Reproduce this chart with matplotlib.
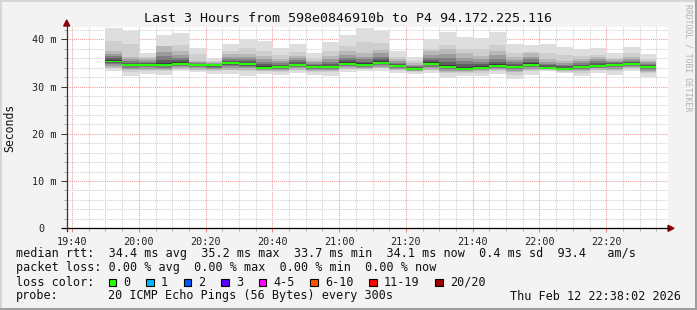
import numpy as np
import matplotlib
matplotlib.use("Agg")
import matplotlib.pyplot as plt
from matplotlib.patches import Rectangle, Polygon
from matplotlib.lines import Line2D
from matplotlib.ticker import FixedLocator, FuncFormatter

# ---- data (ms) ----
title = "Last 3 Hours from 598e0846910b to P4 94.172.225.116"
first_bar = "19:50"
step_min = 5

rtt_max = [42.3, 41.7, 37.2, 40.9, 41.3, 38.2, 36.0, 39.1, 40.1, 39.6, 38.1,
           38.9, 37.1, 39.5, 40.9, 42.3, 41.7, 37.5, 36.3, 40.0, 41.6, 40.4,
           40.2, 41.6, 38.9, 38.8, 38.9, 38.3, 37.9, 38.2, 37.0, 38.4, 36.9]
rtt_upper = [37.6, 36.3, 36.0, 38.5, 37.5, 35.5, 35.2, 36.8, 36.8, 36.5, 35.8,
             36.5, 35.5, 36.5, 37.5, 37.0, 37.8, 35.8, 35.0, 37.5, 38.0, 37.0,
             36.5, 37.5, 36.3, 37.0, 35.8, 35.5, 35.8, 36.3, 35.8, 36.2, 35.5]
rtt_median = [35.3, 34.6, 34.6, 34.6, 34.8, 34.5, 34.5, 35.0, 34.8, 34.0, 34.2,
              34.6, 34.1, 34.1, 34.8, 34.6, 35.0, 34.4, 33.8, 34.8, 34.2, 33.8,
              34.0, 34.4, 34.2, 34.6, 34.0, 33.8, 34.2, 34.4, 34.6, 34.8, 34.2]
rtt_lower = [34.0, 33.4, 33.5, 33.4, 33.8, 33.6, 33.4, 33.6, 33.5, 33.2, 33.2,
             33.6, 33.3, 33.2, 33.8, 33.8, 33.9, 33.4, 33.2, 33.6, 33.0, 33.0,
             33.2, 33.4, 33.0, 33.5, 33.6, 33.3, 33.3, 33.6, 33.5, 33.9, 33.0]
rtt_min = [33.3, 32.2, 32.6, 32.4, 33.2, 33.0, 32.7, 32.7, 32.3, 32.7, 32.4,
           32.8, 32.4, 32.3, 33.0, 33.3, 33.2, 32.8, 32.6, 32.8, 31.9, 32.2,
           32.2, 32.6, 31.5, 32.4, 33.2, 32.8, 32.2, 32.8, 32.4, 33.2, 32.0]

loss_labels = ["0", "1", "2", "3", "4-5", "6-10", "11-19", "20/20"]
loss_colors = ["#26ff00", "#00b8ff", "#0059ff", "#5e00ff", "#ff00ff",
               "#ff5500", "#ff0000", "#a10000"]

median_text = "median rtt:  34.4 ms avg  35.2 ms max  33.7 ms min  34.1 ms now  0.4 ms sd  93.4   am/s"
loss_text = "packet loss: 0.00 % avg  0.00 % max  0.00 % min  0.00 % now"
probe_text = "20 ICMP Echo Pings (56 Bytes) every 300s"
stamp_text = "Thu Feb 12 22:38:02 2026"

# ---- layout (pixels) ----
W, H = 697, 310
t_start = 19 * 60 + 38.4
t_end = t_start + 180
y_top = 42.6

plt.rcParams["font.family"] = ["DejaVu Sans Mono"]


def fx(x):
    return x / W


def fy(y):
    return 1 - y / H


def hm(minutes):
    return "%02d:%02d" % (int(minutes) // 60, int(minutes) % 60)


fig = plt.figure(figsize=(W / 100, H / 100), dpi=100, facecolor="#f3f3f3")

# 3D-ish frame
fig.add_artist(Line2D([fx(0), fx(W)], [fy(0.5), fy(0.5)], color="#d6d6d6", lw=1.4))
fig.add_artist(Line2D([fx(0.5), fx(0.5)], [fy(0), fy(H)], color="#d6d6d6", lw=1.4))
fig.add_artist(Line2D([fx(0), fx(W)], [fy(H - 1.2), fy(H - 1.2)], color="#9e9e9e", lw=2.2))
fig.add_artist(Line2D([fx(W - 1.2), fx(W - 1.2)], [fy(0), fy(H)], color="#9e9e9e", lw=2.2))

ax = fig.add_axes([fx(66.7), fy(228.3), fx(601), (228.3 - 27) / H])
ax.set_facecolor("white")
ax.set_xlim(t_start, t_end)
ax.set_ylim(0, y_top)
for s in ax.spines.values():
    s.set_visible(False)

# grid
h0, m0 = map(int, first_bar.split(":"))
x_major = np.arange(19 * 60 + 40, t_end, 20)
x_minor = [m for m in np.arange(19 * 60 + 40, t_end, 5) if m not in x_major]
y_major = np.arange(0, y_top, 10)
y_minor = [v for v in np.arange(0, y_top, 2) if v % 10 != 0]
ax.xaxis.set_major_locator(FixedLocator(x_major))
ax.xaxis.set_minor_locator(FixedLocator(x_minor))
ax.yaxis.set_major_locator(FixedLocator(y_major))
ax.yaxis.set_minor_locator(FixedLocator(y_minor))
ax.grid(which="minor", color="#cfcfcf", linestyle=(0, (1, 1)), linewidth=0.75)
ax.grid(which="major", color="#f29a9a", linestyle=(0, (1, 1)), linewidth=0.75)
ax.set_axisbelow(True)

ax.xaxis.set_major_formatter(FuncFormatter(lambda v, p: hm(v)))
ax.yaxis.set_major_formatter(FuncFormatter(lambda v, p: "0  " if v == 0 else "%d m" % v))
ax.tick_params(axis="both", which="both", labelsize=7.3, colors="#222222")
ax.tick_params(axis="x", which="major", length=3, width=0.7, color="#e08080", pad=3)
ax.tick_params(axis="x", which="minor", length=2, width=0.7, color="#aaaaaa")
ax.tick_params(axis="y", which="major", length=4, width=0.7, color="#333333", pad=3)
ax.tick_params(axis="y", which="minor", length=2, width=0.7, color="#aaaaaa")

# smoke
x0 = h0 * 60 + m0 + step_min * np.arange(len(rtt_median))
med = np.array(rtt_median)
up = np.array(rtt_upper)
lo = np.array(rtt_lower)
top = np.array(rtt_max)
bot = np.array(rtt_min)

outer = [(1.0, "#dedede"), (0.62, "#cecece")]
core = [(1.0, "#b8b8b8"), (0.72, "#9c9c9c"), (0.48, "#7e7e7e"),
        (0.28, "#5e5e5e"), (0.12, "#3c3c3c")]
for f, c in outer:
    b = med - f * (med - bot)
    t = med + f * (top - med)
    ax.bar(x0, t - b, bottom=b, width=step_min, align="edge", color=c, lw=0, zorder=2)
for f, c in core:
    b = med - f * (med - lo)
    t = med + f * (up - med)
    ax.bar(x0, t - b, bottom=b, width=step_min, align="edge", color=c, lw=0, zorder=3)

# median marker, coloured by loss (all 0 here)
ax.bar(x0, 0.42, bottom=med - 0.21, width=step_min, align="edge",
       color=loss_colors[0], lw=0, zorder=4)

# axes with arrows
fig.add_artist(Line2D([fx(62), fx(669)], [fy(228.3), fy(228.3)], color="black", lw=0.9))
fig.add_artist(Line2D([fx(66.7), fx(66.7)], [fy(231), fy(24)], color="#333333", lw=0.9))
fig.add_artist(Polygon([[fx(668), fy(225.3)], [fx(674), fy(228.3)], [fx(668), fy(231.3)]],
                       closed=True, color="#8b0000", transform=fig.transFigure))
fig.add_artist(Polygon([[fx(63.7), fy(26)], [fx(66.7), fy(20)], [fx(69.7), fy(26)]],
                       closed=True, color="#8b0000", transform=fig.transFigure))

# titles
fig.text(fx(348), fy(19), title, ha="center", va="center", fontsize=9.6, color="#111111")
fig.text(fx(10), fy(127.5), "Seconds", rotation=90, ha="center", va="center",
         fontsize=8.3, color="#111111")
fig.text(fx(688), fy(4), "RRDTOOL / TOBI OETIKER", rotation=270, ha="center", va="top",
         fontsize=5.9, color="#b0b0b0")

# legend
fs = 8.5
cw = 7.1
fig.text(fx(16), fy(254), median_text, ha="left", va="center", fontsize=fs, color="#111111")
fig.text(fx(16), fy(268), loss_text, ha="left", va="center", fontsize=fs, color="#111111")
fig.text(fx(16), fy(282), "loss color:", ha="left", va="center", fontsize=fs, color="#111111")
fig.text(fx(16), fy(296), "probe:", ha="left", va="center", fontsize=fs, color="#111111")
fig.text(fx(16 + 13 * cw), fy(296), probe_text, ha="left", va="center", fontsize=fs,
         color="#111111")
fig.text(fx(681), fy(296), stamp_text, ha="right", va="center", fontsize=fs, color="#111111")

bx = 108.7
for lab, col in zip(loss_labels, loss_colors):
    fig.add_artist(Rectangle((fx(bx), fy(282 + 4)), fx(7.5), 7.5 / H, facecolor=col,
                             edgecolor="black", lw=0.8, transform=fig.transFigure))
    fig.text(fx(bx + 14.8), fy(282), lab, ha="left", va="center", fontsize=fs, color="#111111")
    bx = bx + 14.8 + len(lab) * cw + 15.6

fig.savefig("out.png", dpi=100, facecolor=fig.get_facecolor())
